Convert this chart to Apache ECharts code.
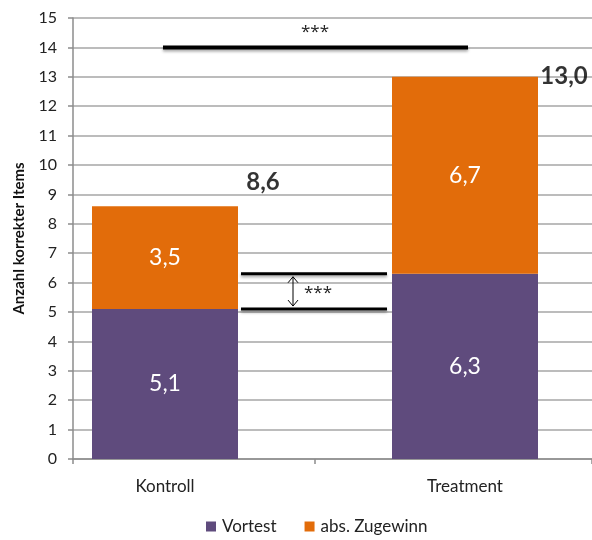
<!DOCTYPE html>
<html>
<head>
<meta charset="utf-8">
<script src="https://cdn.jsdelivr.net/npm/echarts@6/dist/echarts.min.js"></script>
<style>
  html, body { margin: 0; padding: 0; background: #fff; }
  #chart { width: 592px; height: 540px; }
</style>
</head>
<body>
<div id="chart"></div>
<script>
// values
const categories = ['Kontroll', 'Treatment'];
const vortest = [5.1, 6.3];
const zugewinn = [3.5, 6.7];
const seriesNames = ['Vortest', 'abs. Zugewinn'];
const yMin = 0;
const yMax = 15;
const yStep = 1;
const sigTopLevel = 14;
const sigMark = '***';

const FONT = 'Lato, "Open Sans", sans-serif';
const STAR_FONT = '17px "Open Sans", sans-serif';
const BAR_WIDTH = 146;
const GRID_LINE = '#a6a6a6';
const AXIS_LINE = '#8c8c8c';

const fmt = v => v.toFixed(1).replace('.', ',');
const totals = categories.map((c, i) => vortest[i] + zugewinn[i]);
// where the bold totals sit relative to the top of each bar
const totalOffsets = [[98, -24], [99, -1]];

// the bars sit on slots 0 and 2; the empty slot 1 carries the divider tick
const slot = i => i * 2;
const axisSlots = [categories[0], '', categories[1]];
const toSlots = arr => [arr[0], '-', arr[1]];

const chart = echarts.init(document.getElementById('chart'));

function renderBrackets(params, api) {
  const k = api.coord([slot(0), sigTopLevel]);
  const t = api.coord([slot(1), sigTopLevel]);
  const half = BAR_WIDTH / 2;
  const yHi = api.coord([slot(1), vortest[1]])[1];
  const yLo = api.coord([slot(0), vortest[0]])[1];
  const x1 = k[0] + half + 3;
  const x2 = t[0] - half - 5;
  const ax = x1 + 52;
  const shadow = { shadowBlur: 3, shadowOffsetY: 2, shadowColor: 'rgba(0,0,0,0.35)' };
  const thick = (xa, xb, y, w) => ({
    type: 'line',
    shape: { x1: xa, y1: y, x2: xb, y2: y },
    style: Object.assign({ stroke: '#000', lineWidth: w }, shadow)
  });
  return {
    type: 'group',
    children: [
      thick(k[0] - 2, t[0] + 3, k[1], 4),
      {
        type: 'text',
        style: { text: sigMark, x: (k[0] + t[0]) / 2, y: k[1] - 15, align: 'center', verticalAlign: 'middle', fill: '#222', font: STAR_FONT }
      },
      thick(x1, x2, yHi, 3),
      thick(x1, x2, yLo, 3),
      {
        type: 'polyline',
        shape: { points: [[ax - 5, yHi + 9], [ax, yHi + 3], [ax + 5, yHi + 9]] },
        style: { stroke: '#000', lineWidth: 1, fill: null }
      },
      {
        type: 'line',
        shape: { x1: ax, y1: yHi + 3, x2: ax, y2: yLo - 3 },
        style: { stroke: '#000', lineWidth: 1 }
      },
      {
        type: 'polyline',
        shape: { points: [[ax - 5, yLo - 9], [ax, yLo - 3], [ax + 5, yLo - 9]] },
        style: { stroke: '#000', lineWidth: 1, fill: null }
      },
      {
        type: 'text',
        style: { text: sigMark, x: ax + 11, y: (yHi + yLo) / 2 + 2, align: 'left', verticalAlign: 'middle', fill: '#222', font: STAR_FONT }
      }
    ]
  };
}

const option = {
  animation: false,
  textStyle: { fontFamily: FONT },
  color: ['#5f4b7d', '#e26c0a'],
  legend: {
    data: seriesNames,
    left: 206,
    top: 518,
    padding: 0,
    icon: 'rect',
    itemWidth: 10,
    itemHeight: 10,
    itemGap: 28,
    textStyle: { fontSize: 17, color: '#222', fontFamily: FONT, padding: [0, 0, 0, 1] }
  },
  grid: [
    { left: 73, right: 0, top: 18, bottom: 81 },
    { left: 165, right: 127, top: 18, bottom: 81 }
  ],
  xAxis: [
    {
      gridIndex: 0,
      type: 'value',
      min: 0,
      max: 1,
      interval: 1,
      axisLine: { show: true, lineStyle: { color: AXIS_LINE, width: 1.5 } },
      axisTick: { show: true, length: 5, lineStyle: { color: AXIS_LINE, width: 1.5 } },
      axisLabel: { show: false },
      splitLine: { show: false }
    },
    {
      gridIndex: 1,
      type: 'category',
      data: axisSlots,
      boundaryGap: false,
      axisLine: { show: false },
      axisTick: { show: true, length: 5, interval: i => i === 1, lineStyle: { color: AXIS_LINE, width: 1.5 } },
      axisLabel: { fontSize: 17, color: '#222', margin: 19, fontFamily: FONT, interval: 0 },
      splitLine: { show: false }
    }
  ],
  yAxis: [
    {
      gridIndex: 0,
      type: 'value',
      min: yMin,
      max: yMax,
      interval: yStep,
      name: 'Anzahl korrekter Items',
      nameLocation: 'middle',
      nameGap: 46,
      nameTextStyle: { fontSize: 15, fontWeight: 'bold', color: '#111', fontFamily: FONT },
      axisLine: { show: true, lineStyle: { color: AXIS_LINE, width: 1.5 } },
      axisTick: { show: true, length: 5, lineStyle: { color: AXIS_LINE, width: 1.5 } },
      axisLabel: { fontSize: 16, color: '#222', margin: 16, fontFamily: FONT },
      splitLine: { show: true, lineStyle: { color: GRID_LINE, width: 1.5 } }
    },
    {
      gridIndex: 1,
      type: 'value',
      min: yMin,
      max: yMax,
      interval: yStep,
      show: false
    }
  ],
  series: [
    {
      name: seriesNames[0],
      type: 'bar',
      stack: 'total',
      xAxisIndex: 1,
      yAxisIndex: 1,
      barWidth: BAR_WIDTH,
      data: toSlots(vortest),
      label: {
        show: true,
        position: 'inside',
        color: '#fff',
        fontSize: 23,
        fontFamily: FONT,
        formatter: p => fmt(p.value)
      }
    },
    {
      name: seriesNames[1],
      type: 'bar',
      stack: 'total',
      xAxisIndex: 1,
      yAxisIndex: 1,
      barWidth: BAR_WIDTH,
      data: toSlots(zugewinn),
      label: {
        show: true,
        position: 'inside',
        color: '#fff',
        fontSize: 23,
        fontFamily: FONT,
        formatter: p => fmt(p.value)
      }
    },
    {
      name: 'Gesamt',
      type: 'scatter',
      xAxisIndex: 1,
      yAxisIndex: 1,
      symbolSize: 0,
      silent: true,
      data: totals.map((v, i) => ({
        value: [slot(i), v],
        label: { offset: totalOffsets[i] }
      })),
      label: {
        show: true,
        position: 'inside',
        color: '#000',
        fontSize: 24,
        fontWeight: 'bold',
        fontFamily: FONT,
        formatter: p => fmt(p.value[1])
      }
    },
    {
      name: 'Signifikanz',
      type: 'custom',
      xAxisIndex: 1,
      yAxisIndex: 1,
      silent: true,
      z: 5,
      data: [[slot(0), sigTopLevel]],
      renderItem: renderBrackets
    }
  ]
};

chart.setOption(option);
</script>
</body>
</html>
